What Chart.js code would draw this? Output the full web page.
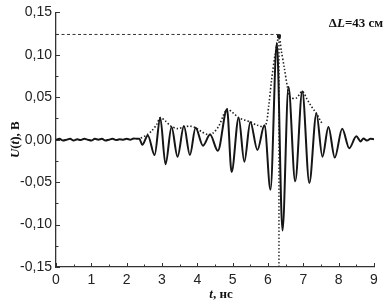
<!DOCTYPE html>
<html>
<head>
    <title>U(t)</title>
    <script src="https://cdn.jsdelivr.net/npm/chart.js"></script>
    <style>
        body { margin: 0; background: #fff; }
    </style>
</head>
<body>
    <canvas id="myChart" width="392" height="307"></canvas>
    <script>
        // signal: flat noisy baseline, then the oscillation extremes (t in ns, U in V)
        const tSignal = [0, 0.1, 0.2, 0.3, 0.4, 0.5, 0.6, 0.7, 0.8, 0.9, 1.0, 1.1, 1.2, 1.3, 1.4, 1.5, 1.6, 1.7, 1.8, 1.9, 2.0, 2.1, 2.2, 2.3,
            2.36, 2.44, 2.6, 2.79, 2.95, 3.1, 3.27, 3.44, 3.62, 3.79, 3.95, 4.16, 4.36, 4.58, 4.84, 4.97, 5.17, 5.33, 5.5, 5.7, 5.9,
            6.07, 6.25, 6.41, 6.58, 6.77, 6.97, 7.17, 7.37, 7.54, 7.71, 7.89, 8.1, 8.3, 8.5, 8.62, 8.7, 8.8, 8.9, 9.0];
        const uSignal = [0, 0.001, -0.001, 0, 0.001, -0.001, 0.0005, -0.0005, 0.001, 0, -0.001, 0.001, 0, 0.001, -0.001, 0, 0.001, -0.0005, 0.0005, 0, 0.001, 0, 0.0015, 0.001,
            0.001, -0.006, 0.005, -0.018, 0.026, -0.029, 0.015, -0.020, 0.016, -0.018, 0.014, -0.007, 0.006, -0.013, 0.036, -0.038, 0.026, -0.026, 0.021, -0.012, 0.017,
            -0.059, 0.114, -0.107, 0.062, -0.049, 0.057, -0.051, 0.031, -0.020, 0.015, -0.021, 0.013, -0.010, 0.004, -0.002, 0.0015, -0.001, 0.001, 0.0005];

        // dotted upper envelope
        const tEnvelope = [2.4, 2.55, 2.7, 2.85, 2.95, 3.1, 3.25, 3.45, 3.62, 3.8, 3.95, 4.1, 4.3, 4.45, 4.62, 4.75, 4.85, 5.0, 5.17, 5.35, 5.5, 5.7, 5.92,
            6.02, 6.1, 6.2, 6.31, 6.38, 6.46, 6.55, 6.62, 6.8, 6.97, 7.1, 7.2, 7.3, 7.37, 7.45, 7.53];
        const uEnvelope = [0.002, 0.005, 0.010, 0.018, 0.026, 0.022, 0.016, 0.013, 0.015, 0.016, 0.014, 0.010, 0.006, 0.008, 0.017, 0.030, 0.036, 0.032, 0.026, 0.023, 0.021, 0.017, 0.016,
            0.040, 0.070, 0.100, 0.122, 0.104, 0.085, 0.062, 0.050, 0.049, 0.057, 0.048, 0.041, 0.035, 0.031, 0.025, 0.019];

        // peak marker and the guide lines from it
        const tPeak = [6.31];
        const uPeak = [0.122];
        const tHoriz = [0, 6.31];
        const uHoriz = [0.124, 0.124];
        const tVert = [6.31, 6.31];
        const uVert = [0.124, -0.15];

        // axis ticks
        const xTicks = [0, 1, 2, 3, 4, 5, 6, 7, 8, 9];
        const yTicks = [-0.15, -0.10, -0.05, 0, 0.05, 0.10, 0.15];

        function toXY(ts, us) {
            return ts.map((t, i) => ({ x: t, y: us[i] }));
        }

        // draws text pieces one after another, each with its own font
        function drawPieces(ctx, pieces, x, y) {
            let w = 0;
            pieces.forEach(p => { ctx.font = p[1]; w += ctx.measureText(p[0]).width; });
            let cx = x - w / 2;
            pieces.forEach(p => {
                ctx.font = p[1];
                ctx.fillText(p[0], cx, y);
                cx += ctx.measureText(p[0]).width;
            });
        }

        const bold = 'bold 13px "Liberation Serif"';
        const boldIt = 'italic bold 13px "Liberation Serif"';

        const decor = {
            id: 'decor',
            afterDraw(chart) {
                const ctx = chart.ctx;
                const xs = chart.scales.x, ys = chart.scales.y;
                const area = chart.chartArea;
                ctx.save();
                ctx.strokeStyle = '#333';
                ctx.lineWidth = 1;
                ctx.beginPath();
                // ticks point into the plot, minor ones half way between majors
                for (let i = 0; i < xTicks.length; i++) {
                    const px = Math.round(xs.getPixelForValue(xTicks[i])) + 0.5;
                    ctx.moveTo(px, area.bottom); ctx.lineTo(px, area.bottom - 4);
                    if (i < xTicks.length - 1) {
                        const mx = Math.round(xs.getPixelForValue((xTicks[i] + xTicks[i + 1]) / 2)) + 0.5;
                        ctx.moveTo(mx, area.bottom); ctx.lineTo(mx, area.bottom - 2.5);
                    }
                }
                for (let i = 0; i < yTicks.length; i++) {
                    const py = Math.round(ys.getPixelForValue(yTicks[i])) + 0.5;
                    ctx.moveTo(area.left, py); ctx.lineTo(area.left + 4, py);
                    if (i < yTicks.length - 1) {
                        const my = Math.round(ys.getPixelForValue((yTicks[i] + yTicks[i + 1]) / 2)) + 0.5;
                        ctx.moveTo(area.left, my); ctx.lineTo(area.left + 2.5, my);
                    }
                }
                ctx.stroke();

                ctx.fillStyle = '#111';
                ctx.textBaseline = 'alphabetic';
                // ΔL label
                drawPieces(ctx, [['\u0394', bold], ['L', boldIt], ['=43 см', bold]], 356, 27);
                // x title
                drawPieces(ctx, [['t', boldIt], [', нс', bold]], 221, 298);
                // y title, rotated
                ctx.translate(19, (area.top + area.bottom) / 2);
                ctx.rotate(-Math.PI / 2);
                drawPieces(ctx, [['U', boldIt], ['(', bold], ['t', boldIt], ['), В', bold]], 0, 0);
                ctx.restore();
            }
        };

        const tickFont = { family: 'Liberation Sans', size: 14 };

        new Chart(document.getElementById('myChart'), {
            type: 'line',
            data: {
                datasets: [
                    {
                        data: toXY(tSignal, uSignal),
                        borderColor: '#151515',
                        borderWidth: 2,
                        pointRadius: 0,
                        cubicInterpolationMode: 'monotone'
                    },
                    {
                        data: toXY(tEnvelope, uEnvelope),
                        borderColor: '#222',
                        borderWidth: 1.6,
                        borderDash: [1.5, 2],
                        pointRadius: 0,
                        tension: 0.3
                    },
                    {
                        data: toXY(tHoriz, uHoriz),
                        borderColor: '#333',
                        borderWidth: 1,
                        borderDash: [3, 2.5],
                        pointRadius: 0
                    },
                    {
                        data: toXY(tVert, uVert),
                        borderColor: '#333',
                        borderWidth: 1.5,
                        borderDash: [1.5, 2],
                        pointRadius: 0
                    },
                    {
                        data: toXY(tPeak, uPeak),
                        showLine: false,
                        pointStyle: 'rect',
                        pointRadius: 2,
                        backgroundColor: '#111',
                        borderColor: '#111'
                    }
                ]
            },
            options: {
                responsive: false,
                animation: false,
                layout: { padding: { top: 12, right: 18, left: 0, bottom: 0 } },
                plugins: { legend: { display: false }, tooltip: { enabled: false } },
                scales: {
                    x: {
                        type: 'linear',
                        min: 0,
                        max: 9,
                        afterBuildTicks: s => { s.ticks = xTicks.map(v => ({ value: v })); },
                        afterFit: s => { s.height = 40; },
                        grid: { display: true, drawOnChartArea: false, drawTicks: false },
                        border: { display: true, color: '#333', width: 1.3 },
                        ticks: { font: tickFont, color: '#222', padding: 5, maxRotation: 0, autoSkip: false }
                    },
                    y: {
                        min: -0.15,
                        max: 0.15,
                        afterBuildTicks: s => { s.ticks = yTicks.map(v => ({ value: v })); },
                        afterFit: s => { s.width = 56; },
                        grid: { display: true, drawOnChartArea: false, drawTicks: false },
                        border: { display: true, color: '#333', width: 1.3 },
                        ticks: {
                            font: tickFont,
                            color: '#222',
                            padding: 4,
                            autoSkip: false,
                            callback: v => v.toFixed(2).replace('.', ',')
                        }
                    }
                }
            },
            plugins: [decor]
        });
    </script>
</body>
</html>
